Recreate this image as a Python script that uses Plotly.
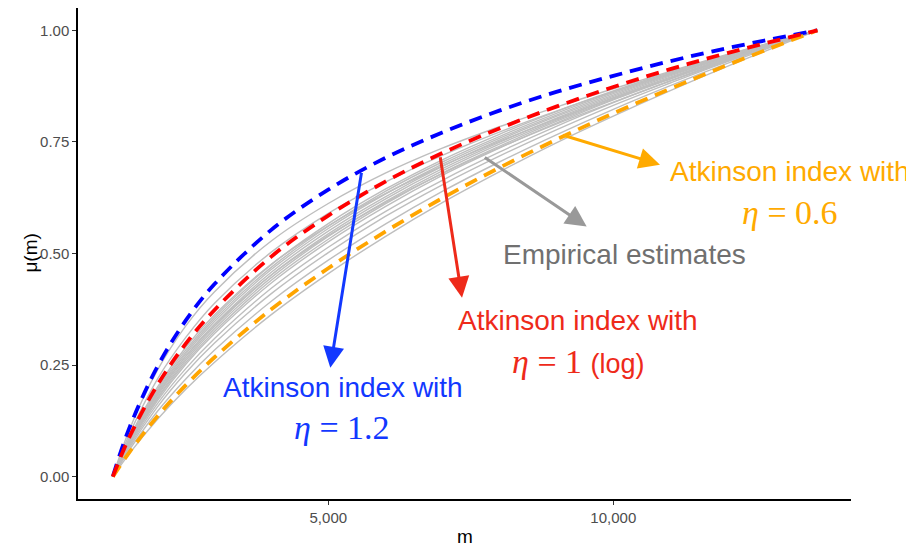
import plotly.graph_objects as go

# ---- data ----
m_grid = [1220, 1500, 2000, 2500, 3000, 4000, 5000, 6000, 7000, 8000, 9000, 10000, 11000, 12000, 13580]

mu_eta12 = [0, 0.106, 0.246, 0.350, 0.431, 0.553, 0.643, 0.714, 0.771, 0.820, 0.862, 0.898, 0.931, 0.960, 1]
mu_eta10 = [0, 0.086, 0.205, 0.298, 0.373, 0.493, 0.585, 0.661, 0.725, 0.780, 0.829, 0.873, 0.913, 0.949, 1]
mu_eta06 = [0, 0.053, 0.135, 0.205, 0.267, 0.375, 0.467, 0.549, 0.624, 0.692, 0.755, 0.814, 0.869, 0.922, 1]

empirical = [
    [0, 0.050, 0.128, 0.196, 0.256, 0.363, 0.455, 0.538, 0.614, 0.683, 0.748, 0.808, 0.865, 0.919, 1],
    [0, 0.058, 0.146, 0.219, 0.283, 0.393, 0.485, 0.566, 0.639, 0.705, 0.766, 0.823, 0.876, 0.926, 1],
    [0, 0.063, 0.156, 0.233, 0.299, 0.410, 0.502, 0.583, 0.654, 0.718, 0.777, 0.832, 0.882, 0.930, 1],
    [0, 0.066, 0.163, 0.242, 0.309, 0.422, 0.514, 0.594, 0.664, 0.727, 0.785, 0.838, 0.887, 0.933, 1],
    [0, 0.070, 0.170, 0.252, 0.320, 0.434, 0.526, 0.605, 0.675, 0.736, 0.792, 0.844, 0.891, 0.936, 1],
    [0, 0.071, 0.174, 0.256, 0.325, 0.440, 0.532, 0.611, 0.680, 0.740, 0.796, 0.846, 0.893, 0.937, 1],
    [0, 0.073, 0.177, 0.261, 0.331, 0.446, 0.538, 0.616, 0.685, 0.745, 0.799, 0.849, 0.895, 0.938, 1],
    [0, 0.074, 0.181, 0.265, 0.336, 0.452, 0.544, 0.622, 0.690, 0.749, 0.803, 0.852, 0.898, 0.940, 1],
    [0, 0.076, 0.184, 0.270, 0.341, 0.458, 0.550, 0.627, 0.695, 0.754, 0.807, 0.855, 0.900, 0.941, 1],
    [0, 0.078, 0.188, 0.275, 0.347, 0.464, 0.556, 0.633, 0.700, 0.758, 0.810, 0.858, 0.902, 0.942, 1],
    [0, 0.079, 0.191, 0.279, 0.352, 0.469, 0.561, 0.639, 0.705, 0.762, 0.814, 0.861, 0.904, 0.944, 1],
    [0, 0.081, 0.195, 0.284, 0.357, 0.475, 0.567, 0.644, 0.710, 0.767, 0.818, 0.864, 0.906, 0.945, 1],
    [0, 0.102, 0.238, 0.338, 0.414, 0.528, 0.612, 0.680, 0.736, 0.784, 0.828, 0.869, 0.908, 0.946, 1],
    [0, 0.092, 0.218, 0.312, 0.388, 0.503, 0.590, 0.660, 0.720, 0.772, 0.819, 0.862, 0.903, 0.942, 1],
    [0, 0.085, 0.200, 0.290, 0.362, 0.476, 0.562, 0.634, 0.696, 0.751, 0.801, 0.848, 0.892, 0.934, 1],
    [0, 0.080, 0.185, 0.270, 0.340, 0.452, 0.540, 0.614, 0.679, 0.737, 0.790, 0.839, 0.886, 0.931, 1],
]

x_tick_vals = [5000, 10000]
x_tick_text = ["5,000", "10,000"]
y_tick_vals = [0, 0.25, 0.5, 0.75, 1.0]
y_tick_text = ["0.00", "0.25", "0.50", "0.75", "1.00"]

# ---- figure ----
fig = go.Figure()

for ys in empirical:
    fig.add_trace(go.Scatter(x=m_grid, y=ys, mode="lines", line=dict(color="#BEBEBE", width=1.4, shape="spline"),
                             hoverinfo="skip", showlegend=False))

dash = "13px,8px"
fig.add_trace(go.Scatter(x=m_grid, y=mu_eta12, mode="lines",
                         line=dict(color="#0000FF", width=3.8, dash=dash, shape="spline"), showlegend=False))
fig.add_trace(go.Scatter(x=m_grid, y=mu_eta06, mode="lines",
                         line=dict(color="#FFA500", width=3.8, dash=dash, shape="spline"), showlegend=False))
fig.add_trace(go.Scatter(x=m_grid, y=mu_eta10, mode="lines",
                         line=dict(color="#FF0000", width=3.8, dash=dash, shape="spline"), showlegend=False))

SANS = "Liberation Sans, Arial, sans-serif"
SERIF = "Liberation Serif, Times New Roman, serif"

BLUE_T = "#1238FF"
RED_T = "#EE2A1A"
ORANGE_T = "#FFAA00"
GRAY_T = "#707070"

# arrows: (tail_x, tail_y, head_x, head_y, color)
arrows = [
    (5586, 0.684, 5035, 0.244, BLUE_T),
    (6960, 0.719, 7346, 0.401, RED_T),
    (7719, 0.7175, 9533, 0.5605, "#999999"),
    (9095, 0.766, 10819, 0.699, ORANGE_T),
]
for tx, ty, hx, hy, c in arrows:
    fig.add_annotation(x=hx, y=hy, ax=tx, ay=ty, xref="x", yref="y", axref="x", ayref="y",
                       text="", showarrow=True, arrowhead=2, arrowsize=1.4, arrowwidth=3,
                       arrowcolor=c, standoff=0, startstandoff=0)

def label(x, y, text, color, family, size):
    fig.add_annotation(x=x, y=y, xref="x", yref="y", text=text, showarrow=False,
                       font=dict(family=family, size=size, color=color), xanchor="center", yanchor="middle")

label(5258, 0.199, "Atkinson index with", BLUE_T, SANS, 28)
label(5240, 0.111, "<i>η</i> = 1.2", BLUE_T, SERIF, 34)
label(9381, 0.349, "Atkinson index with", RED_T, SANS, 28)
label(9381, 0.259, "<i>η</i> = 1 <span style='font-family:Liberation Sans, Arial, sans-serif;font-size:27px'>(log)</span>",
      RED_T, SERIF, 34)
label(13100, 0.683, "Atkinson index with", ORANGE_T, SANS, 28)
label(13100, 0.591, "<i>η</i> = 0.6", ORANGE_T, SERIF, 34)
label(10205, 0.497, "Empirical estimates", GRAY_T, SANS, 28)

# axis titles
fig.add_annotation(x=0.5, y=-0.077, xref="paper", yref="paper", text="m", showarrow=False,
                   font=dict(family=SANS, size=19, color="black"), xanchor="center", yanchor="middle")
fig.add_annotation(x=-0.062, y=0.5, xref="paper", yref="paper", text="μ(m)", showarrow=False, textangle=-90,
                   font=dict(family=SANS, size=19, color="black"), xanchor="center", yanchor="middle")

# the page body adds an 8px offset; size/margins compensate so the plot area matches
fig.update_layout(
    width=906, height=538,
    margin=dict(l=70, r=63, t=0, b=47, autoexpand=False),
    plot_bgcolor="white", paper_bgcolor="white",
    font=dict(family=SANS),
    xaxis=dict(range=[609, 14170], showgrid=False, zeroline=False, showline=True, linecolor="black", linewidth=1.5,
               ticks="outside", ticklen=4, tickcolor="#333333", tickwidth=1.2, automargin=False,
               tickvals=x_tick_vals, ticktext=x_tick_text, tickfont=dict(size=15, color="#4D4D4D")),
    yaxis=dict(range=[-0.05, 1.05], showgrid=False, zeroline=False, showline=True, linecolor="black", linewidth=1.5,
               ticks="outside", ticklen=4, tickcolor="#333333", tickwidth=1.2, automargin=False,
               tickvals=y_tick_vals, ticktext=y_tick_text, tickfont=dict(size=15, color="#4D4D4D")),
)

fig.write_html("out.html")
